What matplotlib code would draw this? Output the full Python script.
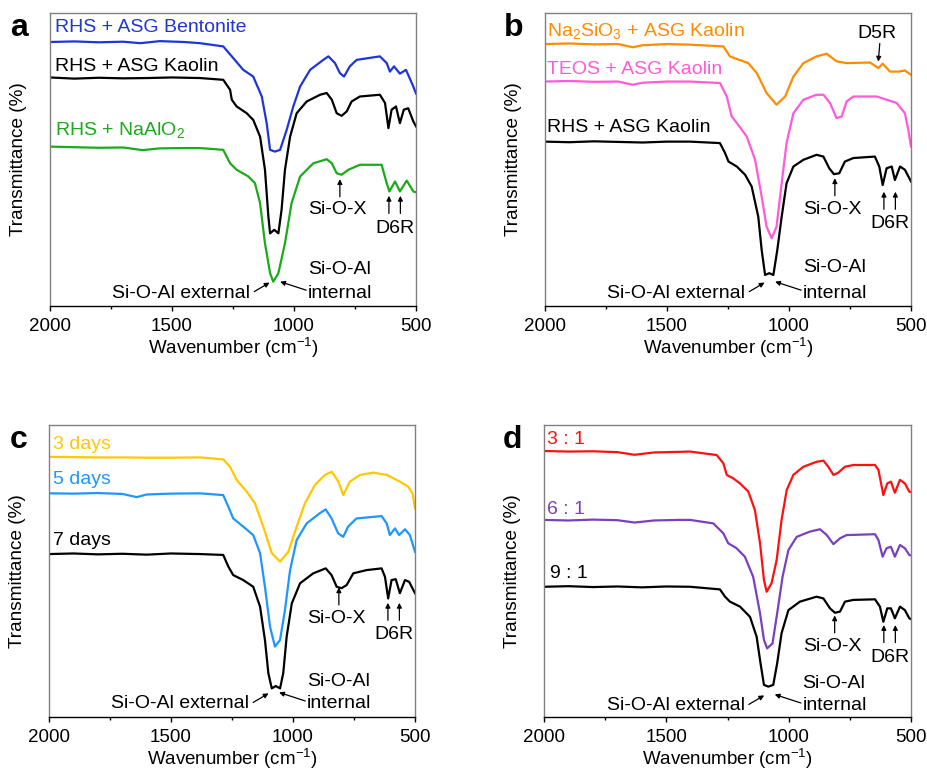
import matplotlib
matplotlib.use("Agg")
import matplotlib.pyplot as plt
from matplotlib.ticker import MultipleLocator

plt.rcParams['font.family'] = ['Liberation Sans', 'DejaVu Sans']
plt.rcParams['mathtext.fontset'] = 'custom'
plt.rcParams['mathtext.rm'] = 'Liberation Sans'
plt.rcParams['mathtext.it'] = 'Liberation Sans:italic'

# ---- panel a: silica source RHS with different alumina sources ----
wn_a_bent = [2000, 1900, 1800, 1700, 1630, 1550, 1450, 1385, 1290, 1255, 1208, 1167, 1132, 1112, 1098,
             1078, 1057, 1030, 1003, 975, 934, 880, 859, 832, 812, 795, 771, 743, 648, 620, 607, 590,
             566, 541, 511, 500]
t_a_bent = [90.1, 90.3, 90.0, 90.2, 89.7, 90.4, 90.1, 89.7, 88.6, 85.2, 80.6, 78.3, 71.5, 62.4, 53.3,
            52.7, 53.3, 60.1, 68.1, 74.9, 80.6, 84.0, 85.2, 82.9, 79.5, 78.3, 81.8, 84.0, 85.2, 82.9,
            80.0, 81.8, 79.3, 80.6, 74.9, 72.5]
wn_a_kao = [2000, 1900, 1800, 1700, 1600, 1500, 1385, 1290, 1262, 1255, 1235, 1194, 1167, 1139, 1119,
            1105, 1098, 1081, 1064, 1051, 1037, 1016, 989, 948, 893, 866, 845, 825, 805, 784, 764, 730,
            648, 627, 613, 600, 582, 566, 550, 532, 511, 500]
t_a_kao = [78.0, 77.6, 77.9, 77.7, 77.8, 78.0, 77.8, 77.2, 73.8, 70.4, 68.1, 65.8, 63.5, 57.8, 46.5,
           30.5, 24.8, 26.0, 24.8, 32.8, 46.5, 57.8, 65.8, 69.8, 72.1, 72.7, 70.4, 65.8, 64.9, 66.4,
           69.8, 71.5, 72.1, 69.3, 60.7, 67.0, 68.1, 62.4, 67.0, 67.5, 63.0, 61.3]
wn_a_naal = [2000, 1900, 1800, 1700, 1620, 1550, 1450, 1385, 1290, 1262, 1235, 1187, 1160, 1139, 1119,
             1098, 1085, 1064, 1037, 1010, 975, 921, 866, 845, 825, 805, 777, 730, 641, 620, 609, 586,
             566, 538, 511, 500]
t_a_naal = [54.4, 54.2, 54.0, 54.1, 53.2, 53.8, 53.9, 53.9, 53.3, 48.7, 46.5, 44.2, 41.9, 35.1, 21.4,
            11.2, 8.3, 11.2, 21.4, 35.1, 44.2, 48.7, 50.1, 48.7, 45.3, 44.8, 46.5, 48.2, 48.2, 41.9,
            39.1, 42.5, 39.1, 42.8, 39.1, 38.8]

# ---- panel b: different silica sources with ASG kaolin ----
wn_b_na = [2000, 1900, 1800, 1700, 1640, 1600, 1500, 1406, 1269, 1242, 1214, 1167, 1132, 1092, 1051,
           1016, 982, 941, 887, 846, 805, 764, 668, 634, 616, 586, 552, 525, 500]
t_b_na = [89.4, 89.6, 89.3, 89.4, 88.3, 89.0, 89.4, 89.2, 88.6, 85.2, 84.3, 82.9, 79.5, 72.7, 68.7,
          71.5, 78.3, 82.9, 85.2, 86.1, 83.5, 82.9, 83.1, 81.2, 82.7, 80.0, 80.0, 80.4, 78.9]
wn_b_teos = [2000, 1900, 1800, 1700, 1640, 1600, 1500, 1406, 1283, 1255, 1235, 1208, 1173, 1139, 1112,
             1092, 1071, 1051, 1030, 1010, 982, 941, 887, 859, 832, 805, 784, 764, 736, 641, 559, 525,
             511, 500]
t_b_teos = [76.6, 76.8, 76.5, 76.6, 75.5, 76.2, 76.6, 76.6, 76.1, 71.5, 64.7, 61.8, 57.8, 49.9, 37.3,
            27.1, 23.1, 27.1, 41.9, 55.6, 65.8, 70.4, 72.1, 72.1, 69.3, 64.1, 64.7, 69.8, 71.5, 71.5,
            69.3, 65.8, 60.1, 54.4]
wn_b_rhs = [2000, 1900, 1800, 1700, 1600, 1500, 1406, 1283, 1262, 1248, 1214, 1180, 1153, 1126, 1112,
            1098, 1081, 1064, 1048, 1030, 1010, 982, 941, 887, 859, 835, 816, 794, 771, 736, 648, 630,
            616, 600, 579, 566, 545, 525, 500]
t_b_rhs = [56.1, 55.9, 56.2, 56.0, 55.8, 56.1, 56.1, 55.6, 52.2, 49.3, 47.6, 44.8, 40.8, 30.5, 19.1,
           10.6, 11.2, 10.6, 19.1, 30.5, 41.9, 47.6, 49.9, 51.6, 51.0, 47.0, 45.0, 45.3, 49.3, 50.5,
           51.0, 47.6, 41.3, 47.0, 47.6, 43.0, 47.6, 46.5, 42.5]

# ---- panel c: crystallisation time ----
wn_c_3d = [2000, 1900, 1800, 1700, 1600, 1500, 1381, 1286, 1258, 1231, 1190, 1156, 1122, 1087, 1053,
           1019, 985, 951, 910, 869, 841, 814, 794, 767, 725, 671, 616, 562, 528, 510, 500]
t_c_3d = [89.1, 89.0, 88.9, 88.9, 88.8, 88.8, 88.9, 88.2, 85.7, 81.2, 77.2, 73.2, 65.2, 56.1, 53.2,
          56.6, 65.2, 73.2, 79.5, 82.9, 84.0, 80.6, 76.0, 80.6, 82.9, 83.7, 82.9, 80.6, 78.9, 76.6, 71.5]
wn_c_5d = [2000, 1900, 1800, 1700, 1640, 1600, 1500, 1381, 1286, 1265, 1245, 1204, 1163, 1135, 1115,
           1094, 1074, 1053, 1033, 1012, 985, 944, 890, 866, 842, 815, 794, 774, 740, 637, 616, 603,
           582, 565, 541, 521, 500]
t_c_5d = [76.6, 76.5, 76.7, 76.4, 75.3, 76.2, 76.5, 76.6, 76.0, 72.0, 68.0, 65.2, 62.3, 56.1, 44.6,
          30.9, 24.1, 26.4, 36.6, 50.3, 60.6, 66.3, 69.8, 71.1, 68.0, 62.9, 61.7, 65.2, 68.0, 68.8,
          66.3, 62.3, 64.6, 62.3, 64.3, 62.3, 56.6]
wn_c_7d = [2000, 1900, 1800, 1700, 1600, 1500, 1381, 1286, 1265, 1245, 1204, 1163, 1135, 1115, 1101,
           1087, 1071, 1053, 1040, 1026, 1005, 971, 917, 866, 842, 821, 801, 780, 753, 699, 637, 623,
           610, 596, 579, 562, 541, 524, 500]
t_c_7d = [55.8, 56.0, 55.7, 55.9, 55.6, 56.0, 55.8, 55.5, 51.5, 48.6, 46.9, 44.6, 37.8, 26.4, 15.0,
          9.8, 10.6, 9.8, 15.0, 27.5, 38.9, 45.8, 49.2, 50.9, 48.6, 44.6, 44.1, 45.2, 49.2, 50.3, 50.9,
          48.0, 40.6, 46.9, 47.2, 42.4, 46.9, 46.3, 42.4]

# ---- panel d: Si/Al ratio ----
wn_d_3 = [2000, 1900, 1800, 1700, 1630, 1550, 1450, 1403, 1294, 1267, 1253, 1226, 1199, 1165, 1138,
          1117, 1101, 1090, 1070, 1049, 1029, 1008, 981, 940, 886, 858, 838, 817, 797, 770, 736, 647,
          633, 613, 597, 582, 566, 545, 525, 507, 500]
t_d_3 = [91.1, 90.9, 91.0, 90.7, 89.8, 90.6, 90.8, 90.9, 89.7, 86.9, 82.9, 81.7, 80.0, 77.2, 70.9,
         59.5, 46.9, 42.9, 45.8, 53.8, 67.5, 77.7, 82.9, 85.7, 87.4, 87.8, 85.7, 82.9, 83.7, 85.7,
         86.3, 86.3, 84.6, 76.0, 80.0, 80.6, 76.8, 81.2, 80.0, 77.2, 77.0]
wn_d_6 = [2000, 1900, 1800, 1700, 1630, 1550, 1450, 1403, 1308, 1267, 1247, 1213, 1179, 1145, 1117,
          1101, 1088, 1066, 1047, 1025, 1001, 967, 913, 872, 844, 817, 790, 763, 647, 633, 616, 600,
          582, 566, 545, 525, 507, 500]
t_d_6 = [67.5, 67.3, 67.6, 67.4, 66.6, 67.3, 67.5, 67.5, 66.3, 62.9, 59.5, 57.8, 54.9, 48.0, 35.5,
         26.4, 23.5, 25.2, 35.5, 48.0, 57.2, 61.7, 63.5, 64.3, 62.3, 59.2, 61.2, 62.3, 62.6, 60.6,
         54.9, 57.8, 58.3, 54.9, 58.9, 57.8, 55.5, 55.3]
wn_d_9 = [2000, 1900, 1800, 1700, 1600, 1500, 1403, 1281, 1260, 1240, 1199, 1158, 1131, 1115, 1101,
          1083, 1063, 1047, 1029, 1001, 954, 886, 858, 831, 811, 790, 770, 736, 647, 627, 613, 597,
          582, 566, 545, 525, 507, 500]
t_d_9 = [44.6, 44.8, 44.5, 44.7, 44.4, 44.7, 44.6, 43.7, 41.2, 39.5, 37.8, 34.3, 27.5, 18.4, 11.0,
         10.4, 11.0, 18.4, 28.7, 36.6, 39.5, 41.2, 40.6, 37.2, 35.7, 36.1, 39.5, 40.1, 40.3, 37.8,
         32.6, 37.2, 37.2, 33.8, 37.8, 36.6, 33.8, 33.5]

W, H = 927, 773
fig = plt.figure(figsize=(W / 100, H / 100), dpi=100)
fs = 14


def make_axes(left, top, right, bottom, letter):
    ax = fig.add_axes([left / W, 1 - bottom / H, (right - left) / W, (bottom - top) / H])
    ax.set_xlim(2000, 500)
    ax.set_ylim(0, 100)
    ax.set_xticks([2000, 1500, 1000, 500])
    ax.xaxis.set_minor_locator(MultipleLocator(250))
    ax.set_yticks([])
    ax.tick_params(axis='x', which='major', direction='out', length=3.6, width=1, labelsize=13.5, pad=5)
    ax.tick_params(axis='x', which='minor', direction='out', length=2.2, width=1)
    for s in ['left', 'right', 'top']:
        ax.spines[s].set_color('#808080')
        ax.spines[s].set_linewidth(1)
    ax.spines['bottom'].set_color('black')
    ax.spines['bottom'].set_linewidth(1)
    ax.set_xlabel('Wavenumber (cm$^{-1}$)', fontsize=13.5)
    ax.xaxis.set_label_coords(0.5, -0.102)
    ax.set_ylabel('Transmittance (%)', fontsize=13.7)
    ax.yaxis.set_label_coords(-0.063, 0.5)
    ax.text(-0.06, 1.0, letter, transform=ax.transAxes, fontsize=23, fontweight='bold',
            ha='right', va='top')
    return ax


def arrow(ax, x0, y0, x1, y1):
    ax.annotate('', xy=(x1, y1), xytext=(x0, y0),
                arrowprops=dict(arrowstyle='-|>', color='black', lw=0.9,
                                mutation_scale=7, shrinkA=0, shrinkB=0))


def peaks(ax, sox_y, d6r_y, sial_y, int_y):
    ax.text(822, sox_y, 'Si-O-X', fontsize=fs, ha='center', va='center')
    arrow(ax, 812, sox_y + 4.5, 812, sox_y + 10.5)
    ax.text(586, d6r_y, 'D6R', fontsize=fs, ha='center', va='center')
    arrow(ax, 611, d6r_y + 5, 611, d6r_y + 11)
    arrow(ax, 564, d6r_y + 5, 564, d6r_y + 11)
    ax.text(943, sial_y, 'Si-O-Al', fontsize=fs, ha='left', va='center')
    ax.text(943, int_y, 'internal', fontsize=fs, ha='left', va='center')
    ax.text(1180, int_y, 'Si-O-Al external', fontsize=fs, ha='right', va='center')
    arrow(ax, 1163, int_y + 0.5, 1100, int_y + 3.6)
    arrow(ax, 950, int_y + 1.0, 1057, int_y + 3.9)


lw = 1.6

# panel a
ax = make_axes(50, 13, 416, 306, 'a')
ax.plot(wn_a_bent, t_a_bent, color='#1f35d8', lw=lw)
ax.plot(wn_a_kao, t_a_kao, color='black', lw=lw)
ax.plot(wn_a_naal, t_a_naal, color='#1aaa1a', lw=lw)
ax.text(1980, 95.0, 'RHS + ASG Bentonite', color='#1f35d8', fontsize=fs, va='center')
ax.text(1980, 81.7, 'RHS + ASG Kaolin', color='black', fontsize=fs, va='center')
ax.text(1980, 60.1, 'RHS + NaAlO$_2$', color='#1aaa1a', fontsize=fs, va='center')
peaks(ax, 32.8, 26.6, 12.3, 4.4)

# panel b
ax = make_axes(545, 13, 911, 306, 'b')
ax.plot(wn_b_na, t_b_na, color='#ff8c00', lw=lw)
ax.plot(wn_b_teos, t_b_teos, color='#ff5ad8', lw=lw)
ax.plot(wn_b_rhs, t_b_rhs, color='black', lw=lw)
ax.text(1992, 94.0, 'Na$_2$SiO$_3$ + ASG Kaolin', color='#ff8c00', fontsize=fs, va='center')
ax.text(1992, 80.6, 'TEOS + ASG Kaolin', color='#ff5ad8', fontsize=fs, va='center')
ax.text(1992, 60.8, 'RHS + ASG Kaolin', color='black', fontsize=fs, va='center')
ax.text(640, 92.9, 'D5R', fontsize=fs, ha='center', va='center')
arrow(ax, 628, 89.6, 634, 83.4)
peaks(ax, 33.1, 28.0, 13.0, 4.4)

# panel c
ax = make_axes(49, 425, 415, 717, 'c')
ax.plot(wn_c_3d, t_c_3d, color='#ffc800', lw=lw)
ax.plot(wn_c_5d, t_c_5d, color='#1e96ff', lw=lw)
ax.plot(wn_c_7d, t_c_7d, color='black', lw=lw)
ax.text(1984, 93.2, '3 days', color='#ffc800', fontsize=fs, va='center')
ax.text(1984, 81.2, '5 days', color='#1e96ff', fontsize=fs, va='center')
ax.text(1984, 60.6, '7 days', color='black', fontsize=fs, va='center')
peaks(ax, 33.9, 28.1, 12.3, 4.5)

# panel d
ax = make_axes(544, 425, 911, 717, 'd')
ax.plot(wn_d_3, t_d_3, color='#ff1010', lw=lw)
ax.plot(wn_d_6, t_d_6, color='#7b40c0', lw=lw)
ax.plot(wn_d_9, t_d_9, color='black', lw=lw)
ax.text(1988, 95.2, '3 : 1', color='#ff1010', fontsize=fs, va='center')
ax.text(1988, 71.2, '6 : 1', color='#7b40c0', fontsize=fs, va='center')
ax.text(1975, 49.0, '9 : 1', color='black', fontsize=fs, va='center')
peaks(ax, 24.3, 20.5, 11.6, 3.8)

fig.savefig('out.png', dpi=100)
